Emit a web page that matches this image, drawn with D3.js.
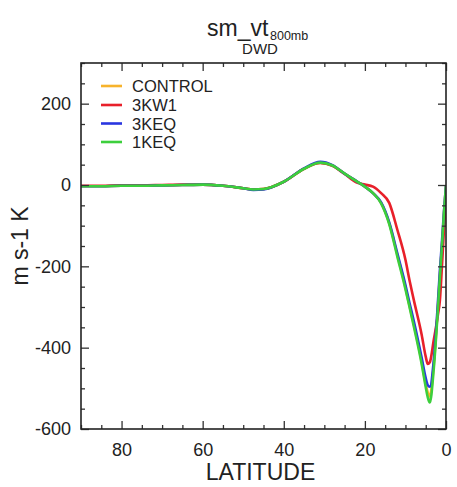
<!DOCTYPE html>
<html>
<head>
<meta charset="utf-8">
<script src="https://cdn.jsdelivr.net/npm/d3@7"></script>
<style>
  html, body { margin: 0; padding: 0; background: #fff; }
  svg { display: block; }
  text { font-family: "Liberation Sans", Arial, Helvetica, sans-serif; fill: #222; }
</style>
</head>
<body>
<svg id="chart" width="457" height="487"></svg>
<script>
// ---- data ----
const latitudes = [90, 85, 80, 75, 70, 65, 60, 55, 50, 47.5, 45, 40, 35, 31, 28, 25, 22, 20, 18, 16, 14, 12, 10, 9, 8, 6, 5, 4.5, 4, 3, 2, 1.5, 1, 0.5, 0];
const control = [-3, -3, -2, -2, -1, 0, 1, -2, -8, -11, -10, 8, 40, 55, 48, 28, 9, -4, -20, -44, -94, -172, -252, -297, -340, -435, -490, -510, -520, -440, -300, -220, -150, -70, 0];
const kw1     = [-2, -2, -1, -1, 0, 1, 1, -2, -8, -11, -10, 8, 40, 54, 47, 27, 6, 1, -4, -20, -44, -110, -184, -234, -280, -368, -422, -440, -436, -380, -320, -283, -200, -110, -30];
const keq3    = [-3, -3, -2, -2, -1, 0, 1, -2, -8, -12, -11, 8, 41, 57, 49, 28, 9, -4, -20, -43, -92, -168, -246, -290, -332, -425, -475, -492, -496, -430, -290, -210, -140, -65, 0];
const keq1    = [-3, -3, -2, -2, -1, 0, 1, -2, -8, -11, -10, 8, 40, 55, 48, 28, 9, -4, -20, -45, -96, -176, -256, -300, -345, -440, -497, -522, -535, -450, -305, -225, -150, -70, 0];
const seriesNames = ["CONTROL", "3KW1", "3KEQ", "1KEQ"];
const seriesColors = ["#f7b32b", "#e8202a", "#2a36e0", "#3ccf3c"];
const xTicks = [80, 60, 40, 20, 0];
const yTicks = [-600, -400, -200, 0, 200];

const seriesValues = [control, kw1, keq3, keq1];

// ---- layout ----
const svg = d3.select("#chart");
const L = 81, R = 446, T = 63, B = 429;

const x = d3.scaleLinear().domain([90, 0]).range([L, R]);
const y = d3.scaleLinear().domain([-600, 300]).range([B, T]);

const fmt = d => String(d); // plain hyphen-minus like the reference

// clip
svg.append("defs").append("clipPath").attr("id", "clip")
  .append("rect").attr("x", L).attr("y", T).attr("width", R - L).attr("height", B - T);

// lines
const line = d3.line()
  .x((d, i) => x(latitudes[i]))
  .y(d => y(d))
  .curve(d3.curveMonotoneX);

const g = svg.append("g").attr("clip-path", "url(#clip)");
seriesValues.forEach((vals, k) => {
  g.append("path")
    .datum(vals)
    .attr("d", line)
    .attr("fill", "none")
    .attr("stroke", seriesColors[k])
    .attr("stroke-width", 2.6)
    .attr("stroke-linejoin", "round");
});

// axes (ticks inward, mirrored)
const tickColor = "#333";
const xMinor = d3.range(0, 91, 5).filter(v => v % 20 !== 0);
const yMinor = d3.range(-600, 301, 50).filter(v => v % 200 !== 0);

function drawAxes() {
  const ax = svg.append("g");
  // bottom
  ax.append("g").attr("transform", `translate(0,${B})`)
    .call(d3.axisBottom(x).tickValues(xTicks).tickSize(-8).tickFormat(fmt).tickPadding(14))
    .call(s => s.select(".domain").remove());
  ax.append("g").attr("transform", `translate(0,${B})`)
    .call(d3.axisBottom(x).tickValues(xMinor).tickSize(-4).tickFormat(""))
    .call(s => s.select(".domain").remove());
  // top
  ax.append("g").attr("transform", `translate(0,${T})`)
    .call(d3.axisTop(x).tickValues(xTicks).tickSize(-8).tickFormat(""))
    .call(s => s.select(".domain").remove());
  ax.append("g").attr("transform", `translate(0,${T})`)
    .call(d3.axisTop(x).tickValues(xMinor).tickSize(-4).tickFormat(""))
    .call(s => s.select(".domain").remove());
  // left
  ax.append("g").attr("transform", `translate(${L},0)`)
    .call(d3.axisLeft(y).tickValues(yTicks).tickSize(-8).tickFormat(fmt).tickPadding(10))
    .call(s => s.select(".domain").remove());
  ax.append("g").attr("transform", `translate(${L},0)`)
    .call(d3.axisLeft(y).tickValues(yMinor).tickSize(-4).tickFormat(""))
    .call(s => s.select(".domain").remove());
  // right
  ax.append("g").attr("transform", `translate(${R},0)`)
    .call(d3.axisRight(y).tickValues(yTicks).tickSize(-8).tickFormat(""))
    .call(s => s.select(".domain").remove());
  ax.append("g").attr("transform", `translate(${R},0)`)
    .call(d3.axisRight(y).tickValues(yMinor).tickSize(-4).tickFormat(""))
    .call(s => s.select(".domain").remove());

  ax.selectAll(".tick line").attr("stroke", tickColor).attr("stroke-width", 1.3);
  ax.selectAll(".tick text")
    .attr("font-size", 18)
    .attr("font-family", "'Liberation Sans', Arial, sans-serif")
    .attr("fill", "#222");

  // frame
  svg.append("rect").attr("x", L).attr("y", T).attr("width", R - L).attr("height", B - T)
    .attr("fill", "none").attr("stroke", "#222").attr("stroke-width", 1.6);
}
drawAxes();

// axis titles
svg.append("text").attr("x", (L + R) / 2 - 3).attr("y", 480)
  .attr("text-anchor", "middle").attr("font-size", 23).text("LATITUDE");
svg.append("text")
  .attr("transform", `translate(28,${(T + B) / 2}) rotate(-90)`)
  .attr("text-anchor", "middle").attr("font-size", 23).text("m s-1 K");

// title
svg.append("text").attr("x", 207).attr("y", 36).attr("font-size", 23).text("sm_vt");
svg.append("text").attr("x", 270).attr("y", 40).attr("font-size", 12.5).text("800mb");
svg.append("text").attr("x", 260).attr("y", 54).attr("text-anchor", "middle").attr("font-size", 15).text("DWD");

// legend
const legendY = [86, 105, 123.5, 142];
seriesNames.forEach((name, k) => {
  svg.append("line").attr("x1", 101).attr("x2", 122)
    .attr("y1", legendY[k]).attr("y2", legendY[k])
    .attr("stroke", seriesColors[k]).attr("stroke-width", 2.6);
  svg.append("text").attr("x", 132).attr("y", legendY[k] + 6)
    .attr("font-size", 16.5).text(name);
});
</script>
</body>
</html>
